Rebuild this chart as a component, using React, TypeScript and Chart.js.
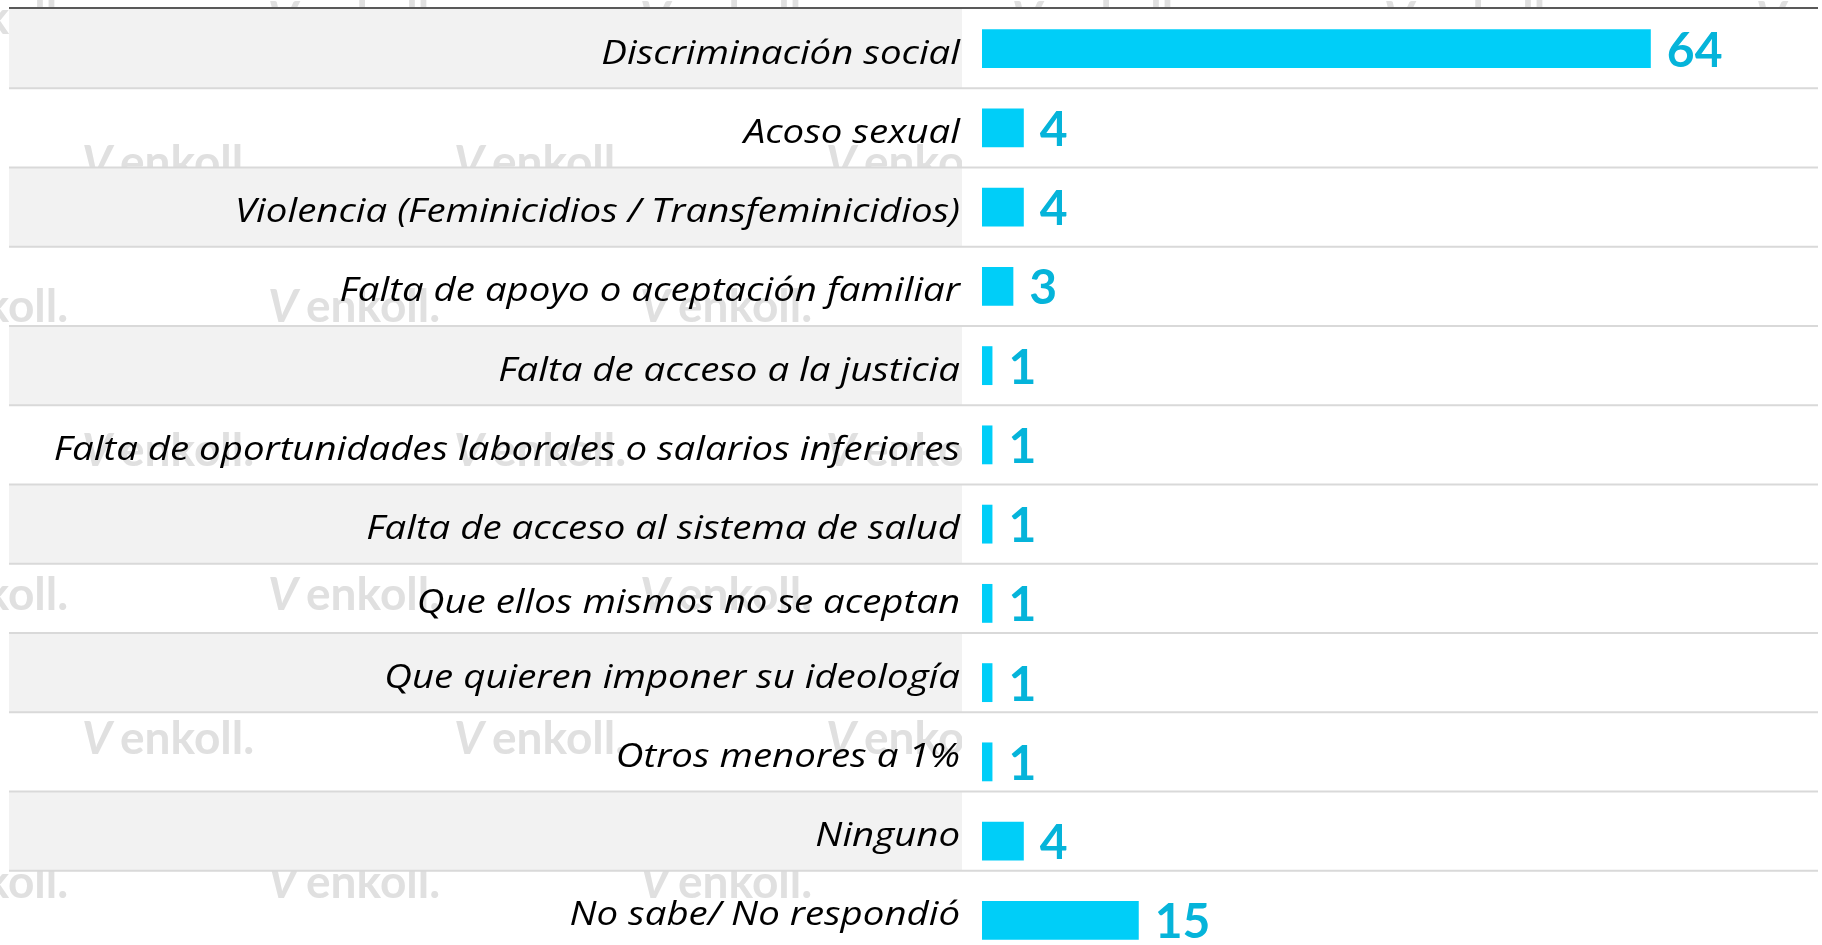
import React, { useEffect, useRef } from "react";
import { Chart, registerables } from "chart.js";

Chart.register(...registerables);

const categories: string[] = [
  "Discriminación social",
  "Acoso sexual",
  "Violencia (Feminicidios / Transfeminicidios)",
  "Falta de apoyo o aceptación familiar",
  "Falta de acceso a la justicia",
  "Falta de oportunidades laborales o salarios inferiores",
  "Falta de acceso al sistema de salud",
  "Que ellos mismos no se aceptan",
  "Que quieren imponer su ideología",
  "Otros menores a 1%",
  "Ninguno",
  "No sabe/ No respondió",
];

const values: number[] = [64, 4, 4, 3, 1, 1, 1, 1, 1, 1, 4, 15];

const X_MAX = 80;

const BAR_COLOR = "#00CEF8";
const VALUE_COLOR = "#05B4DA";
const BAND_COLOR = "#F2F2F2";
const SEP_COLOR = "#D9D9D9";
const TOP_LINE_COLOR = "#595959";
const WATERMARK_COLOR = "#E0E0E0";
const WATERMARK_TEXT = "enkoll.";

export default function App() {
  const ref = useRef<HTMLCanvasElement>(null);

  useEffect(() => {
    document.body.style.margin = "0";
    document.body.style.overflow = "hidden";
    const canvas = ref.current;
    if (!canvas) return;

    const rowDecor = {
      id: "rowDecor",
      beforeDraw(chart: any) {
        const { ctx, chartArea, scales, width, height } = chart;
        const y = scales.y;
        const n = categories.length;
        const step = (chartArea.bottom - chartArea.top) / n;
        const bandLeft = 9;
        const bandRight = 962;
        const lineRight = 1818;
        // table rows after the 8th one sit a little higher than the bars
        const shiftAfter = 8;
        const shift = -10;
        const boundary = (i: number) =>
          i === 0
            ? chartArea.top
            : y.getPixelForValue(i) - step / 2 + (i >= shiftAfter ? shift : 0);

        ctx.save();
        // faint watermarks
        ctx.fillStyle = WATERMARK_COLOR;
        ctx.textBaseline = "alphabetic";
        ctx.textAlign = "left";
        const pitchX = 372;
        const pitchY = 144;
        for (let r = 0; r * pitchY < height + 40; r++) {
          const by = 34 + r * pitchY;
          const x0 = r % 2 === 0 ? 268 : 82;
          for (let x = x0 - pitchX * 2; x < width; x += pitchX) {
            ctx.font = "italic bold 46px Lato";
            ctx.fillText("V", x, by);
            ctx.font = "bold 46px Lato";
            ctx.fillText(WATERMARK_TEXT, x + 38, by);
          }
        }
        // white plot area
        ctx.fillStyle = "#FFFFFF";
        ctx.fillRect(bandRight, chartArea.top, width - bandRight, height - chartArea.top);

        for (let i = 0; i < n; i++) {
          if (i % 2 === 0) {
            const top = boundary(i);
            const bottom = boundary(i + 1);
            ctx.fillStyle = BAND_COLOR;
            ctx.fillRect(bandLeft, top, bandRight - bandLeft, bottom - top);
          }
        }
        ctx.strokeStyle = SEP_COLOR;
        ctx.lineWidth = 2;
        for (let i = 1; i < n; i++) {
          const b = boundary(i);
          ctx.beginPath();
          ctx.moveTo(bandLeft, b);
          ctx.lineTo(lineRight, b);
          ctx.stroke();
        }
        ctx.strokeStyle = TOP_LINE_COLOR;
        ctx.beginPath();
        ctx.moveTo(bandLeft, chartArea.top - 1);
        ctx.lineTo(lineRight, chartArea.top - 1);
        ctx.stroke();

        // category labels, centred in their table rows (slightly stretched like the original)
        ctx.fillStyle = "#000000";
        ctx.font = "italic 32px 'Open Sans'";
        ctx.textAlign = "right";
        ctx.textBaseline = "alphabetic";
        categories.forEach((label, i) => {
          const mid = (boundary(i) + boundary(i + 1)) / 2;
          ctx.save();
          ctx.translate(chartArea.left - 22, mid + 15);
          ctx.scale(1.2, 1);
          ctx.fillText(label, 0, 0);
          ctx.restore();
        });
        ctx.restore();
      },
    };

    const valueLabels = {
      id: "valueLabels",
      afterDatasetsDraw(chart: any) {
        const { ctx } = chart;
        const meta = chart.getDatasetMeta(0);
        ctx.save();
        ctx.fillStyle = VALUE_COLOR;
        ctx.font = "bold 48px Lato";
        ctx.textAlign = "left";
        ctx.textBaseline = "alphabetic";
        meta.data.forEach((bar: any, i: number) => {
          ctx.fillText(String(values[i]), bar.x + 16, bar.y + 18);
        });
        ctx.restore();
      },
    };

    const chart = new Chart(canvas, {
      type: "bar",
      data: {
        labels: categories,
        datasets: [
          {
            data: values,
            backgroundColor: BAR_COLOR,
            borderWidth: 0,
            categoryPercentage: 1,
            barPercentage: 0.49,
          },
        ],
      },
      options: {
        indexAxis: "y",
        responsive: false,
        animation: false,
        layout: { padding: { top: 9, right: 4, bottom: 0, left: 0 } },
        plugins: {
          legend: { display: false },
          tooltip: { enabled: false },
        },
        scales: {
          x: {
            display: false,
            min: 0,
            max: X_MAX,
          },
          y: {
            grid: { display: false, drawTicks: false },
            border: { display: false },
            ticks: { display: false },
            afterFit(scale: any) {
              scale.width = 982;
              scale.paddingTop = 0;
              scale.paddingBottom = 0;
            },
          },
        },
      },
      plugins: [rowDecor, valueLabels],
    });

    return () => chart.destroy();
  }, []);

  return (
    <div style={{ width: 1822, height: 960, overflow: "hidden" }}>
      <canvas ref={ref} width={1822} height={960} style={{ display: "block" }} />
    </div>
  );
}
